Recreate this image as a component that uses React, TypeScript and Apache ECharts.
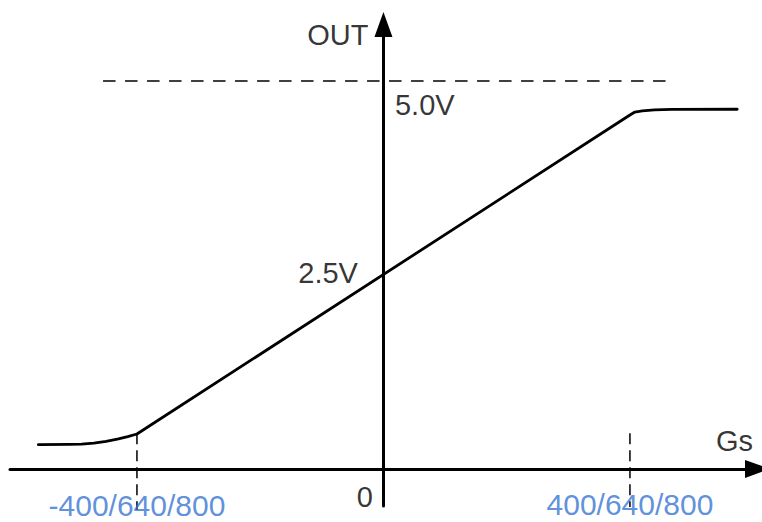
import React, { useEffect, useRef } from "react";
import * as echarts from "echarts";

// Axis ranges (data units: Gs and volts)
const xMin = -606;
const xMax = 607;
const yMin = -0.477;
const yMax = 5.728;

// Output characteristic
const gsValues = [-560, -510, -490, -470, -450, -430, -415, -400, 400, 408, 420, 440, 468, 574];
const outValues = [0.313, 0.316, 0.32, 0.333, 0.356, 0.387, 0.416, 0.451, 4.562, 4.6, 4.614, 4.627, 4.635, 4.636];

// 5.0V reference (dashed)
const refLevel = 5.0;
const refSpan = [-455, 459];

// Vertical guide lines at the knees
const guideX = [-400, 400];
const guideTop = [0.46, 0.46];
const guideBottom = [-0.53, -0.49];

// Tick labels
const xTickValues = [-400, 400];
const xTickLabels = ["-400/640/800", "400/640/800"];
const yTickValues = [2.5, 5.0];
const yTickLabels = ["2.5V", "5.0V"];
const originLabel = "0";
const xAxisName = "Gs";
const yAxisName = "OUT";

const FONT = "'Liberation Sans', Arial, sans-serif";
const BLUE = "#3574d2";

export default function App() {
  const ref = useRef<HTMLDivElement>(null);

  useEffect(() => {
    if (!ref.current) return;
    const chart = echarts.init(ref.current, null, { renderer: "svg" });

    const curve = gsValues.map((x, i) => [x, outValues[i]]);

    const guideSeries = guideX.map((x, i) => ({
      type: "line",
      data: [
        [x, guideTop[i]],
        [x, guideBottom[i]],
      ],
      symbol: "none",
      clip: false,
      silent: true,
      lineStyle: { color: "#000", width: 1.5, type: [11, 6] },
      z: 1,
    }));

    const labelBase = {
      show: true,
      fontFamily: FONT,
      fontSize: 29,
      color: "#000",
      verticalAlign: "middle",
    };
    const blueLabel = {
      ...labelBase,
      fontSize: 30,
      lineHeight: 25,
      color: BLUE,
      align: "center",
    };

    const labelData: any[] = [
      {
        value: [0, yTickValues[0]],
        label: { ...labelBase, formatter: yTickLabels[0], position: [-25.5, -2], align: "right" },
      },
      {
        value: [0, yTickValues[1]],
        label: { ...labelBase, formatter: yTickLabels[1], position: [11.5, 24], align: "left" },
      },
      {
        value: [0, yMax],
        label: { ...labelBase, formatter: yAxisName, position: [-15, 10.5], align: "right" },
      },
      {
        value: [0, 0],
        label: { ...labelBase, formatter: originLabel, position: [-10.5, 28], align: "right" },
      },
      {
        value: [xMax, 0],
        label: { ...labelBase, formatter: xAxisName, position: [-4.5, -28], align: "right" },
      },
      {
        value: [xTickValues[0], 0],
        label: { ...blueLabel, formatter: xTickLabels[0], position: [0, 36.5] },
      },
      {
        value: [xTickValues[1], 0],
        label: { ...blueLabel, formatter: xTickLabels[1], position: [0, 36] },
      },
    ];

    const axisCommon = {
      type: "value",
      axisTick: { show: false },
      axisLabel: { show: false },
      splitLine: { show: false },
    };

    chart.setOption({
      animation: false,
      backgroundColor: "#fff",
      grid: { left: 10, right: 4.5, top: 24.5, bottom: 16, containLabel: false },
      xAxis: {
        ...axisCommon,
        min: xMin,
        max: xMax,
        axisLine: {
          show: true,
          onZero: true,
          symbol: ["none", "triangle"],
          symbolSize: [18, 25],
          lineStyle: { color: "#000", width: 3 },
        },
      },
      yAxis: {
        ...axisCommon,
        min: yMin,
        max: yMax,
        axisLine: {
          show: true,
          onZero: true,
          symbol: ["none", "triangle"],
          symbolSize: [18, 25],
          lineStyle: { color: "#000", width: 3 },
        },
      },
      series: [
        {
          type: "line",
          data: [
            [refSpan[0], refLevel],
            [refSpan[1], refLevel],
          ],
          symbol: "none",
          silent: true,
          lineStyle: { color: "#000", width: 1.5, type: [12.5, 9.5] },
          z: 1,
        },
        ...guideSeries,
        {
          type: "line",
          data: curve,
          symbol: "none",
          smooth: false,
          silent: true,
          lineStyle: { color: "#000", width: 2.8, cap: "round", join: "round" },
          z: 3,
        },
        {
          type: "scatter",
          data: labelData,
          symbolSize: 0,
          itemStyle: { color: "transparent" },
          silent: true,
          clip: false,
          z: 5,
        },
      ],
    });

    return () => chart.dispose();
  }, []);

  return (
    <div
      ref={ref}
      style={{ position: "fixed", left: 0, top: 0, width: 762, height: 522, background: "#fff" }}
    />
  );
}
